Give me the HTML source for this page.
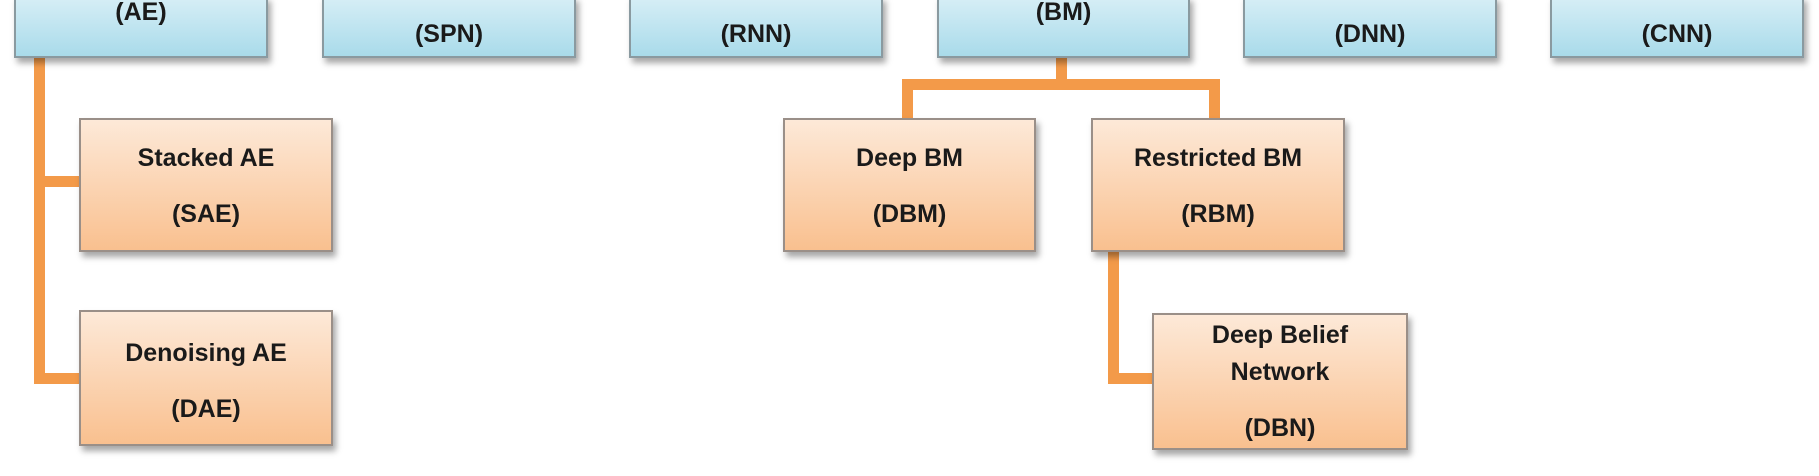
<!DOCTYPE html>
<html><head><meta charset="utf-8"><style>
body{margin:0;width:1819px;height:476px;background:#fff;position:relative;overflow:hidden;font-family:"Liberation Sans",sans-serif;font-weight:bold;color:#1a1a1a}
.b{position:absolute;box-sizing:border-box;border:2px solid #8a9aa0;background:linear-gradient(#d6eef6,#a9dbea);box-shadow:3px 5px 6px rgba(0,0,0,.35)}
.o{position:absolute;box-sizing:border-box;border:2px solid #9a8f88;background:linear-gradient(#fde9d8,#f9c08f);box-shadow:3px 5px 6px rgba(0,0,0,.35)}
.t{position:absolute;left:0;right:0;text-align:center;font-size:25px;line-height:28px;white-space:nowrap}
.l{position:absolute;background:#f39a49}
</style></head><body>
<div class="l" style="left:34px;top:56px;width:11px;height:328px"></div>
<div class="l" style="left:34px;top:176px;width:48px;height:11px"></div>
<div class="l" style="left:34px;top:373px;width:48px;height:11px"></div>
<div class="l" style="left:1056px;top:56px;width:11px;height:30px"></div>
<div class="l" style="left:902px;top:79px;width:318px;height:11px"></div>
<div class="l" style="left:902px;top:79px;width:11px;height:42px"></div>
<div class="l" style="left:1209px;top:79px;width:11px;height:42px"></div>
<div class="l" style="left:1108px;top:248px;width:11px;height:136px"></div>
<div class="l" style="left:1108px;top:373px;width:46px;height:11px"></div>

<div class="b" style="left:14px;top:-4px;width:254px;height:62px"><div class="t" style="top:0px">(AE)</div></div>
<div class="b" style="left:322px;top:-4px;width:254px;height:62px"><div class="t" style="top:22px">(SPN)</div></div>
<div class="b" style="left:629px;top:-4px;width:254px;height:62px"><div class="t" style="top:22px">(RNN)</div></div>
<div class="b" style="left:937px;top:-4px;width:253px;height:62px"><div class="t" style="top:0px">(BM)</div></div>
<div class="b" style="left:1243px;top:-4px;width:254px;height:62px"><div class="t" style="top:22px">(DNN)</div></div>
<div class="b" style="left:1550px;top:-4px;width:254px;height:62px"><div class="t" style="top:22px">(CNN)</div></div>

<div class="o" style="left:79px;top:118px;width:254px;height:134px"><div class="t" style="top:24px">Stacked AE</div><div class="t" style="top:80px">(SAE)</div></div>
<div class="o" style="left:79px;top:310px;width:254px;height:136px"><div class="t" style="top:27px">Denoising AE</div><div class="t" style="top:83px">(DAE)</div></div>
<div class="o" style="left:783px;top:118px;width:253px;height:134px"><div class="t" style="top:24px">Deep BM</div><div class="t" style="top:80px">(DBM)</div></div>
<div class="o" style="left:1091px;top:118px;width:254px;height:134px"><div class="t" style="top:24px">Restricted BM</div><div class="t" style="top:80px">(RBM)</div></div>
<div class="o" style="left:1152px;top:313px;width:256px;height:137px"><div class="t" style="top:6px">Deep Belief</div><div class="t" style="top:43px">Network</div><div class="t" style="top:99px">(DBN)</div></div>
</body></html>
